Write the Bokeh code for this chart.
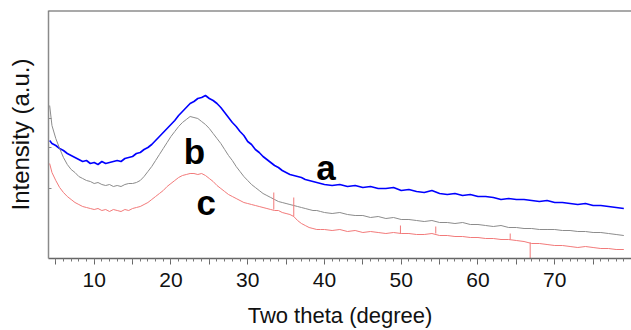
from bokeh.plotting import figure
from bokeh.models import Range1d, FixedTicker, Span
from bokeh.core.properties import value
from bokeh.embed import file_html
from bokeh.resources import INLINE

# ---- data (intensity in arbitrary units) ----
two_theta_lo = [4.2, 4.5, 5.0, 5.5, 6.0, 6.5, 7.0, 7.5, 8.0, 8.5, 9.0, 9.5,
                10.0, 10.5, 11.0, 11.5, 12.0, 12.5, 13.0, 13.5, 14.0, 14.5,
                15.0, 15.5, 16.0, 16.5, 17.0, 17.5, 18.0, 18.5, 19.0, 19.5,
                20.0, 20.5, 21.0, 21.5, 22.0, 22.5, 23.0, 23.5, 24.0, 24.5,
                25.0, 25.5, 26.0, 26.5, 27.0, 27.5, 28.0, 28.5, 29.0, 29.5,
                30.0, 30.5, 31.0, 31.5, 32.0, 32.5, 33.0, 33.5, 34.0, 34.5,
                35.0, 35.5, 36.0, 36.5, 37.0, 37.5, 38.0, 38.5, 39.0, 39.5]
two_theta_hi = [40, 41, 42, 43, 44, 45, 46, 47, 48, 49, 50, 51, 52, 53, 54,
                55, 56, 57, 58, 59, 60, 61, 62, 63, 64, 65, 66, 67, 68, 69,
                70, 71, 72, 73, 74, 75, 76, 77, 78, 79]
two_theta = two_theta_lo + two_theta_hi

curve_a = [118, 115, 113, 110, 108, 105, 103, 101, 99, 97, 98, 95,
           96, 94, 97, 95, 96, 97, 98, 97, 100, 101,
           102, 105, 106, 109, 111, 114, 118, 122, 126, 130,
           134, 138, 143, 147, 151, 155, 157, 160, 161, 163,
           160, 158, 155, 151, 146, 141, 136, 132, 127, 123,
           117, 114, 109, 106, 102, 99, 96, 93, 91, 88,
           86, 84, 83, 82, 81, 79, 78, 77, 76, 75,
           74, 73, 74, 72, 73, 71, 72, 70, 70, 71, 68, 69, 67, 66, 68,
           65, 64, 65, 63, 64, 62, 62, 61, 59, 60, 59, 59, 58, 57, 58,
           56, 56, 55, 54, 55, 53, 53, 52, 51, 50]

curve_b = [153, 133, 120, 110, 101, 94, 89, 86, 82, 80, 78, 77,
           75, 76, 74, 73, 74, 72, 73, 72, 74, 75,
           75, 76, 78, 82, 87, 92, 98, 104, 110, 116,
           122, 127, 132, 136, 139, 142, 141, 140, 137, 134,
           130, 125, 120, 115, 109, 103, 98, 92, 87, 82,
           78, 74, 71, 68, 65, 63, 61, 59, 57, 56,
           55, 54, 53, 52, 51, 50, 49, 48, 48, 47,
           46, 45, 46, 44, 43, 43, 41, 42, 40, 41, 39, 39, 38, 37, 38,
           36, 36, 35, 36, 34, 34, 33, 32, 33, 31, 31, 30, 30, 29, 29,
           29, 28, 28, 27, 27, 26, 26, 25, 24, 23]

curve_c = [95, 86, 78, 71, 66, 62, 59, 56, 54, 52, 51, 50,
           49, 50, 48, 49, 47, 49, 48, 47, 49, 48,
           50, 51, 52, 54, 56, 59, 62, 65, 68, 72,
           75, 78, 81, 83, 84, 85, 85, 84, 85, 83,
           80, 77, 73, 70, 67, 64, 62, 60, 58, 56,
           55, 54, 53, 52, 51, 50, 49, 48, 48, 46,
           45, 44, 42, 38, 35, 33, 31, 30, 29, 29,
           29, 28, 29, 27, 28, 26, 27, 26, 25, 26, 25, 25, 24, 24, 25,
           23, 23, 22, 22, 21, 21, 20, 20, 19, 19, 18, 17, 15, 15, 14,
           13, 13, 12, 11, 12, 11, 10, 10, 9, 9]

# sharp reflections on curve c
spike_theta = [33.4, 36.0, 49.9, 54.5, 64.2, 66.8]
spike_base = [49, 42, 25, 25, 19, 16]
spike_tip = [66, 61, 33, 32, 25, 0]

# curve labels
label_text = ["a", "b", "c"]
label_theta = [40.2, 23.05, 24.6]
label_int = [91, 107, 56]

x_ticks = [5, 10, 15, 20, 25, 30, 35, 40, 45, 50, 55, 60, 65, 70, 75]
x_minor = list(range(4, 80))
y_ticks = [70, 111, 140]

FONT = "Liberation Sans"
X0, X1, Y0, Y1 = 4.05, 80.0, 0, 248

p = figure(width=631, height=330, output_backend="svg", toolbar_location=None,
           x_range=Range1d(X0, X1), y_range=Range1d(Y0, Y1),
           min_border_left=48, min_border_right=0, min_border_top=10,
           min_border_bottom=72)
p.outline_line_color = None
p.grid.visible = False
p.background_fill_color = "white"
p.border_fill_color = "white"

p.line(two_theta, curve_a, line_color="#0000ff", line_width=1.6)
p.line(two_theta, curve_b, line_color="#8c8c8c", line_width=1.0)
p.line(two_theta, curve_c, line_color="#f27a7a", line_width=1.0)
p.segment(x0=spike_theta, y0=spike_base, x1=spike_theta, y1=spike_tip,
          line_color="#f27a7a", line_width=1.0)

p.text(x=label_theta, y=label_int, text=label_text,
       text_font=value(FONT), text_font_style="bold",
       text_font_size=value("35px"), text_align="center",
       text_baseline="alphabetic", text_color="black")

top = Span(location=Y1, dimension="width", line_color="#555555", line_width=2)
p.add_layout(top)

xa = p.xaxis[0]
xa.ticker = FixedTicker(ticks=x_ticks, minor_ticks=x_minor)
xa.major_label_overrides = {t: "" for t in x_ticks if t % 10 != 0}
xa.axis_line_color = "#666666"
xa.axis_line_width = 1.5
xa.major_tick_line_color = "#666666"
xa.minor_tick_line_color = "#777777"
xa.major_tick_out = 6
xa.major_tick_in = 0
xa.minor_tick_out = 3
xa.minor_tick_in = 0
xa.major_label_standoff = 8
xa.major_label_text_font = FONT
xa.major_label_text_font_size = "21px"
xa.major_label_text_color = "#111111"
xa.axis_label = "Two theta (degree)"
xa.axis_label_text_font = FONT
xa.axis_label_text_font_size = "22px"
xa.axis_label_text_font_style = "normal"
xa.axis_label_text_color = "#111111"
xa.axis_label_standoff = 13

ya = p.yaxis[0]
ya.ticker = FixedTicker(ticks=y_ticks, minor_ticks=[])
ya.major_label_overrides = {t: "" for t in y_ticks}
ya.axis_line_color = "#8a8a8a"
ya.axis_line_width = 1.5
ya.major_tick_line_color = "#8a8a8a"
ya.major_tick_in = 3
ya.major_tick_out = 0
ya.minor_tick_line_color = None
ya.major_label_standoff = 0
ya.axis_label = "Intensity (a.u.)"
ya.axis_label_text_font = FONT
ya.axis_label_text_font_size = "24px"
ya.axis_label_text_font_style = "normal"
ya.axis_label_text_color = "#111111"
ya.axis_label_standoff = 15

open("out.html", "w").write(file_html(p, INLINE))
